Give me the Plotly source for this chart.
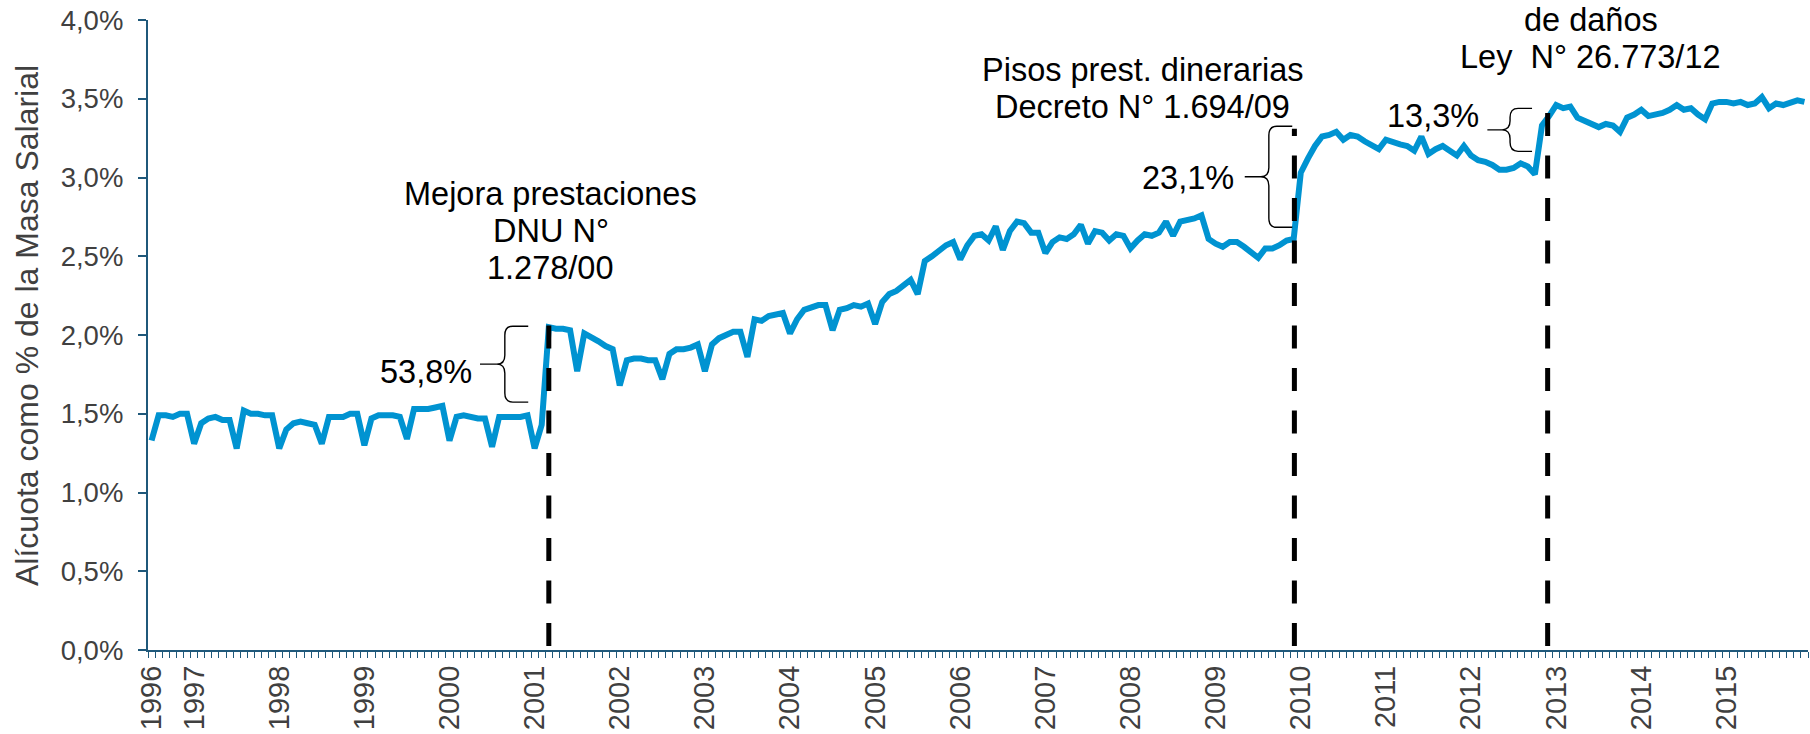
import plotly.graph_objects as go

# ---------------- data ----------------
# monthly series, Jul-1996 .. Dec-2015 (234 months), values in %
values_pct = [
    1.33, 1.49, 1.49, 1.48, 1.50, 1.50, 1.31, 1.44, 1.47, 1.48, 1.46, 1.46,
    1.28, 1.52, 1.50, 1.50, 1.49, 1.49, 1.28, 1.40, 1.44, 1.45, 1.44, 1.43,
    1.31, 1.48, 1.48, 1.48, 1.50, 1.50, 1.30, 1.47, 1.49, 1.49, 1.49, 1.48,
    1.34, 1.53, 1.53, 1.53, 1.54, 1.55, 1.33, 1.48, 1.49, 1.48, 1.47, 1.47,
    1.29, 1.48, 1.48, 1.48, 1.48, 1.49, 1.28, 1.43, 2.05, 2.04, 2.04, 2.03,
    1.77, 2.01, 1.99, 1.96, 1.93, 1.91, 1.68, 1.84, 1.85, 1.85, 1.84, 1.84,
    1.72, 1.88, 1.91, 1.91, 1.92, 1.94, 1.77, 1.94, 1.98, 2.00, 2.02, 2.02,
    1.86, 2.10, 2.09, 2.12, 2.13, 2.14, 2.01, 2.10, 2.16, 2.18, 2.19, 2.19,
    2.03, 2.16, 2.17, 2.19, 2.18, 2.20, 2.07, 2.21, 2.26, 2.28, 2.32, 2.35,
    2.26, 2.47, 2.50, 2.54, 2.57, 2.59, 2.48, 2.57, 2.63, 2.64, 2.60, 2.69,
    2.54, 2.66, 2.72, 2.71, 2.65, 2.65, 2.52, 2.59, 2.62, 2.61, 2.64, 2.70,
    2.58, 2.66, 2.65, 2.60, 2.64, 2.63, 2.55, 2.60, 2.64, 2.63, 2.65, 2.72,
    2.63, 2.72, 2.73, 2.74, 2.76, 2.61, 2.58, 2.56, 2.59, 2.59, 2.56, 2.53,
    2.49, 2.55, 2.55, 2.57, 2.60, 2.61, 3.03, 3.12, 3.20, 3.26, 3.27, 3.29,
    3.24, 3.27, 3.26, 3.23, 3.20, 3.18, 3.24, 3.22, 3.21, 3.20, 3.17, 3.26,
    3.15, 3.18, 3.20, 3.17, 3.14, 3.20, 3.14, 3.11, 3.10, 3.08, 3.05, 3.05,
    3.06, 3.09, 3.07, 3.02, 3.33, 3.39, 3.46, 3.44, 3.45, 3.38, 3.36, 3.34,
    3.32, 3.34, 3.33, 3.29, 3.38, 3.40, 3.43, 3.39, 3.40, 3.41, 3.43, 3.46,
    3.43, 3.44, 3.40, 3.37, 3.47, 3.48, 3.48, 3.47, 3.48, 3.46, 3.47, 3.51,
    3.44, 3.47, 3.46, 3.48, 3.49, 3.48,
]
month_index = list(range(len(values_pct)))
values = [v / 100 for v in values_pct]

year_labels = [str(y) for y in range(1996, 2016)]
year_label_pos = [0] + [6 + 12 * k for k in range(19)]

y_ticks = [k * 0.005 for k in range(9)]

# event markers (month index, top of dashed line)
event_x = [56.0, 161.1, 196.8]
event_top = [0.0208, 0.0331, 0.0344]

# brace geometry: (vertical x, hook-end x, tip x, top y, bottom y)
braces = [
    (49.8, 53.1, 46.3, 0.02056, 0.01574),
    (157.5, 160.8, 154.1, 0.03325, 0.02684),
    (191.5, 194.6, 188.3, 0.03439, 0.03166),
]

# text annotations: (text, x month index, y value)
texts = [
    ("Mejora prestaciones", 56.3, 0.02895),
    ("DNU N°", 56.3, 0.02660),
    ("1.278/00", 56.3, 0.02424),
    ("Pisos prest. dinerarias", 139.7, 0.03680),
    ("Decreto N° 1.694/09", 139.7, 0.03447),
    ("de daños", 202.9, 0.03997),
    ("Ley  N° 26.773/12", 202.8, 0.03763),
    ("53,8%", 38.7, 0.01766),
    ("23,1%", 146.1, 0.02995),
    ("13,3%", 180.6, 0.03390),
]

# ---------------- layout constants ----------------
W, H = 1810, 734
ML, MR, MT, MB = 148, 2, 20, 84
PW = W - ML - MR
PH = H - MT - MB
XR = (-0.5, len(values_pct) - 0.5)
YR = (0, 0.04)
px_x = (XR[1] - XR[0]) / PW   # data units per pixel
px_y = (YR[1] - YR[0]) / PH

AXIS_COLOR = "#1F587A"
LINE_COLOR = "#0093D1"
FONT = "Liberation Sans, Arial, sans-serif"

fig = go.Figure()
fig.add_trace(go.Scatter(
    x=month_index, y=values, mode="lines",
    line=dict(color=LINE_COLOR, width=6),
    hoverinfo="skip", showlegend=False,
))

shapes = []
for ex, et in zip(event_x, event_top):
    shapes.append(dict(
        type="line", xref="x", yref="y", x0=ex, x1=ex,
        y0=4 * px_y, y1=et, layer="above",
        line=dict(color="black", width=5, dash="23px,19.5px"),
    ))

rx = 8 * px_x
ry = 9 * px_y
for xv, xe, xt, yt, yb in braces:
    ym = (yt + yb) / 2
    path = (
        f"M {xe},{yt} L {xv + rx},{yt} Q {xv},{yt} {xv},{yt - ry} "
        f"L {xv},{ym + ry} Q {xv},{ym} {xv - rx},{ym} L {xt},{ym} "
        f"M {xv - rx},{ym} Q {xv},{ym} {xv},{ym - ry} "
        f"L {xv},{yb + ry} Q {xv},{yb} {xv + rx},{yb} L {xe},{yb}"
    )
    shapes.append(dict(type="path", xref="x", yref="y", path=path,
                       line=dict(color="black", width=1.4), layer="above"))

annotations = []
for t, x, y in texts:
    annotations.append(dict(
        text=t, x=x, y=y, xref="x", yref="y", showarrow=False,
        xanchor="center", yanchor="middle",
        font=dict(family=FONT, size=32.5, color="black"),
    ))
annotations.append(dict(
    text="Alícuota como % de la Masa Salarial",
    x=(27 - ML) / PW, y=(H - MB - 326) / PH, xref="paper", yref="paper",
    showarrow=False, textangle=-90, xanchor="center", yanchor="middle",
    font=dict(family=FONT, size=32, color="#404040"),
))

fig.update_layout(
    template="none",
    width=W, height=H,
    margin=dict(l=ML, r=MR, t=MT, b=MB, pad=0),
    paper_bgcolor="white", plot_bgcolor="white",
    separators=",.",
    showlegend=False,
    shapes=shapes,
    annotations=annotations,
    font=dict(family=FONT, color="#404040"),
)
fig.update_xaxes(
    range=list(XR), showgrid=False, zeroline=False,
    showline=True, linecolor=AXIS_COLOR, linewidth=2.3,
    tickmode="array", tickvals=year_label_pos, ticktext=year_labels,
    ticks="", tickangle=-90, ticklabelstandoff=2,
    tickfont=dict(family=FONT, size=29, color="#404040"),
    minor=dict(tickmode="array",
               tickvals=[i - 0.5 for i in range(len(values_pct) + 1)],
               ticks="outside", ticklen=6, tickwidth=1.3,
               tickcolor=AXIS_COLOR, showgrid=False),
    automargin=False,
)
fig.update_yaxes(
    range=list(YR), showgrid=False, zeroline=False,
    showline=True, linecolor=AXIS_COLOR, linewidth=2.3,
    tickmode="array", tickvals=y_ticks, tickformat=".1%",
    ticks="outside", ticklen=8, tickwidth=2, tickcolor=AXIS_COLOR,
    ticklabelstandoff=9,
    tickfont=dict(family=FONT, size=27.5, color="#404040"),
    automargin=False,
)

fig.write_html("out.html", config={"displayModeBar": False},
               post_script="document.body.style.margin='0';")
